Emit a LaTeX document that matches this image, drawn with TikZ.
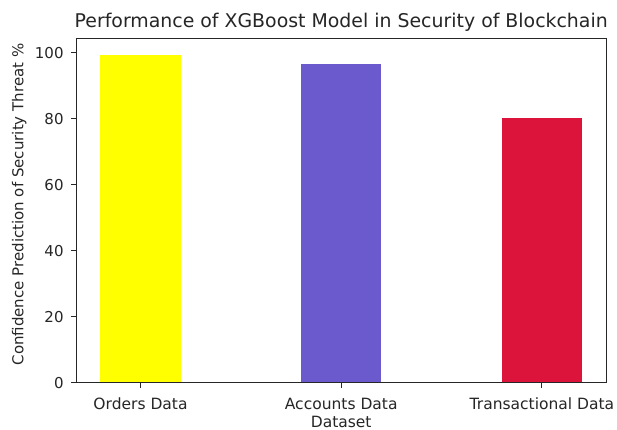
\documentclass[tikz,border=0pt]{standalone}
\usepackage{fontspec}
\setmainfont{DejaVu Sans}
\definecolor{baryellow}{RGB}{255,255,0}
\definecolor{barslate}{RGB}{106,90,205}
\definecolor{barcrimson}{RGB}{220,20,60}
\definecolor{ink}{RGB}{38,38,38}
\begin{document}
\begin{tikzpicture}[x=1pt,y=1pt,
  ticklab/.style={font=\fontsize{15.5}{18}\selectfont, text=ink, inner sep=0pt},
  yticklab/.style={font=\fontsize{15}{18}\selectfont, text=ink, inner sep=0pt},
  spine/.style={line width=1.1pt, ink},
  tickmark/.style={line width=1.1pt, ink}]
\useasboundingbox (0,0) rectangle (617,430);
\fill[white] (0,0) rectangle (617,430);
\begin{scope}[shift={(140.5pt,47.4pt)}, x=200.7pt, y=3.298pt]
  % bars
  \fill[baryellow] (-0.2,0) rectangle (0.2,99.3);
  \fill[barslate] (0.8,0) rectangle (1.2,96.5);
  \fill[barcrimson] (1.8,0) rectangle (2.2,80.1);
  % axes
  \coordinate (ll) at (-0.32,0);
  \coordinate (ur) at (2.32,104.3);
  \draw[spine] (ll) rectangle (ur);
  % y ticks
  \foreach \v in {0,20,40,60,80,100} {
    \draw[tickmark] (-0.32,\v) -- ++(-5pt,0);
    \node[yticklab, anchor=east] (yt\v) at ([xshift=-12.5pt]-0.32,\v) {\v};
  }
  % x ticks
  \foreach \i/\t in {0/Orders Data,1/Accounts Data,2/Transactional Data} {
    \draw[tickmark] (\i,0) -- ++(0,-5pt);
    \node[ticklab, anchor=base] (xt\i) at ([yshift=-27.4pt]\i,0) {\t};
  }
  \node[ticklab, anchor=base, text depth=0pt] (xlab) at ([yshift=-44.6pt]1,0) {Dataset};
  \node[yticklab, anchor=base, rotate=90] (ylab) at ([xshift=-52.8pt]-0.32,54) {Confidence Prediction of Security Threat \%};
  \node[font=\fontsize{18.9}{21}\selectfont, text=ink, inner sep=0pt, anchor=base] (title) at ([yshift=11.5pt]1,104.3) {Performance of XGBoost Model in Security of Blockchain};
\end{scope}
\end{tikzpicture}
\end{document}
